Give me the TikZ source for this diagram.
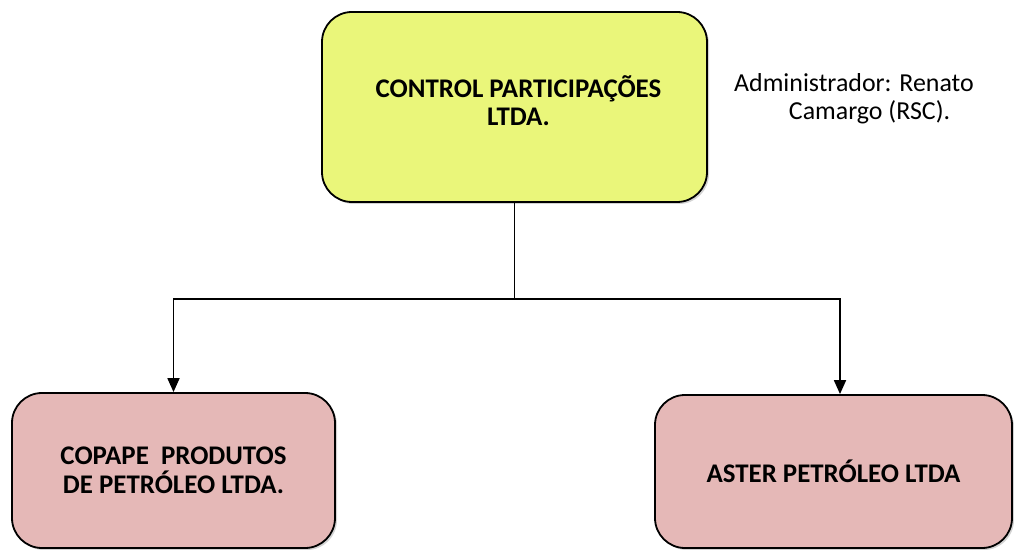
\documentclass[tikz,border=0pt]{standalone}
\usepackage{fontspec}
\setmainfont{Carlito}
\usetikzlibrary{arrows.meta,shadows}
\definecolor{amarelo}{RGB}{234,246,122}
\definecolor{rosa}{RGB}{229,184,183}
\begin{document}
\begin{tikzpicture}[x=1bp,y=-1bp,
    caixa/.style={draw,line width=1.8bp,rounded corners=30bp,align=center,inner sep=0pt,
        font=\fontsize{27}{29}\selectfont\bfseries,
        drop shadow={shadow xshift=2bp,shadow yshift=-2bp,opacity=.35}},
    seta/.style={line width=1.8bp,-{Triangle[length=14bp,width=12bp]}}]
    \useasboundingbox (0,0) rectangle (1014,550);
    % caixas
    \node[caixa,fill=amarelo,minimum width=385bp,minimum height=190bp,
        label={[align=center,font=\fontsize{27}{28}\selectfont\bfseries,yshift=6bp,xshift=4bp]center:CONTROL PARTICIPAÇÕES\\LTDA.}](ctrl) at (514.5,107){};
    \node[caixa,fill=rosa,minimum width=323bp,minimum height=155bp](copape) at (173.5,470.5){COPAPE~ PRODUTOS\\DE PETRÓLEO LTDA.};
    \node[caixa,fill=rosa,minimum width=357bp,minimum height=153bp](aster) at (833.5,471.5){ASTER PETRÓLEO LTDA};
    \node[align=center,font=\fontsize{26}{28}\selectfont](admin) at (854,99){Administrador: Renato\\ \hspace*{1.2em}Camargo (RSC).};
    % ligacoes
    \path (ctrl.south) ++(0,96) coordinate (split);
    \draw[line width=1.8bp](ctrl.south)--(split);
    \draw[seta](split)-|(copape.north);
    \draw[seta](split)-|([xshift=6.5bp]aster.north);
\end{tikzpicture}
\end{document}
